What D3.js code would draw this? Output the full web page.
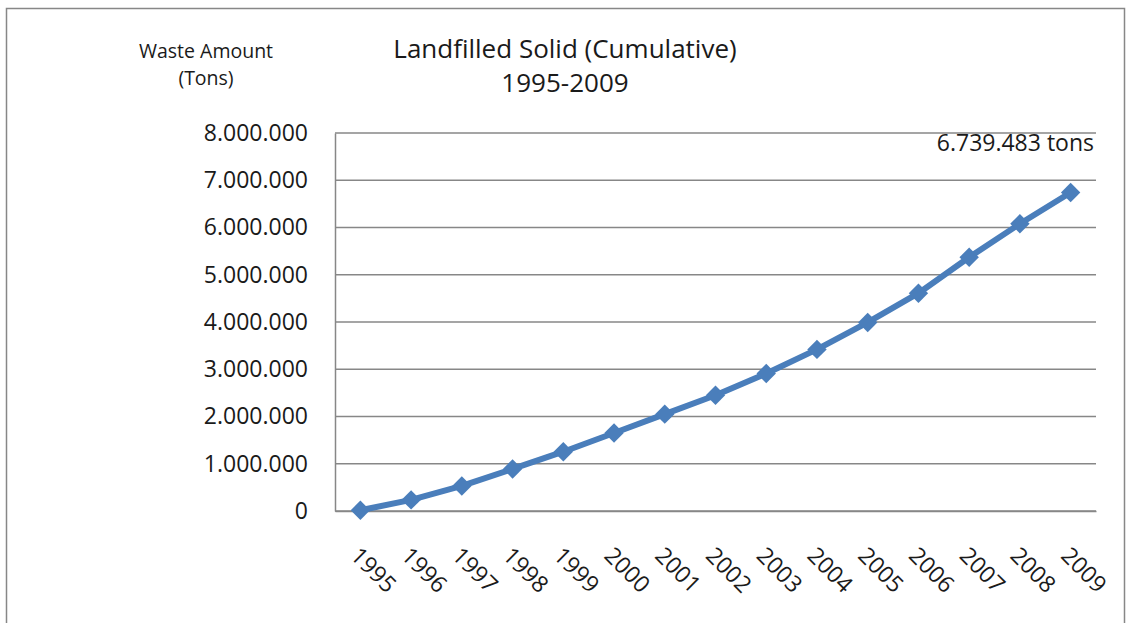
<!DOCTYPE html>
<html>
<head>
<meta charset="utf-8">
<script src="https://cdn.jsdelivr.net/npm/d3@7"></script>
<style>
  html, body { margin: 0; padding: 0; background: #fff; }
  svg { display: block; font-family: "Open Sans", sans-serif; }
</style>
</head>
<body>
<svg id="chart" width="1126" height="623"></svg>
<script>
// Cumulative landfilled solid waste by year (tons)
const years = ["1995","1996","1997","1998","1999","2000","2001","2002","2003","2004","2005","2006","2007","2008","2009"];
const cumulativeTons = [15000, 235000, 530000, 890000, 1255000, 1650000, 2050000, 2450000, 2910000, 3420000, 3990000, 4610000, 5370000, 6080000, 6739483];
const yTicks = [0, 1000000, 2000000, 3000000, 4000000, 5000000, 6000000, 7000000, 8000000];
const titleLines = ["Landfilled Solid (Cumulative)", "1995-2009"];
const yTitleLines = ["Waste Amount", "(Tons)"];
const lastLabel = "6.739.483 tons";

const svg = d3.select("#chart");
const plot = { left: 335, right: 1096, top: 133, bottom: 511 };
const gridColor = "#878787";
const lineColor = "#4a7ebb";

// Outer chart frame
svg.append("rect")
  .attr("x", 6.5).attr("y", 8.5)
  .attr("width", 1118).attr("height", 640)
  .attr("fill", "#fff").attr("stroke", gridColor).attr("stroke-width", 1.5);

const x = d3.scaleBand().domain(years).range([plot.left, plot.right]).padding(0);
const y = d3.scaleLinear().domain([0, 8000000]).range([plot.bottom, plot.top]);

// Dotted thousands separator, e.g. 8.000.000
const fmt = d => d3.format(",")(d).replace(/,/g, ".");

// Horizontal gridlines
svg.append("g")
  .selectAll("line")
  .data(yTicks)
  .join("line")
  .attr("x1", plot.left).attr("x2", plot.right)
  .attr("y1", d => y(d)).attr("y2", d => y(d))
  .attr("stroke", gridColor).attr("stroke-width", 1.5);

// Y axis
const yAxis = svg.append("g")
  .attr("transform", `translate(${plot.left},0)`)
  .call(d3.axisLeft(y).tickValues(yTicks).tickFormat(fmt).tickSize(0).tickPadding(27));
yAxis.select(".domain").attr("stroke", gridColor).attr("stroke-width", 1.5);
yAxis.selectAll("text")
  .attr("font-family", "Open Sans, sans-serif")
  .attr("font-size", 23).attr("fill", "#1a1a1a");

// X axis
const xAxis = svg.append("g")
  .attr("transform", `translate(0,${plot.bottom})`)
  .call(d3.axisBottom(x).tickSize(0).tickFormat(""));
xAxis.select(".domain").attr("stroke", gridColor).attr("stroke-width", 1.5);

// Rotated year labels
svg.append("g")
  .selectAll("text")
  .data(years)
  .join("text")
  .attr("transform", d => `translate(${x(d) + x.bandwidth() / 2 - 11},${plot.bottom + 46}) rotate(45)`)
  .attr("text-anchor", "start")
  .attr("font-size", 23)
  .attr("fill", "#1a1a1a")
  .text(d => d);

// Series line
const line = d3.line()
  .x((d, i) => x(years[i]) + x.bandwidth() / 2)
  .y(d => y(d));
svg.append("path")
  .datum(cumulativeTons)
  .attr("d", line)
  .attr("fill", "none")
  .attr("stroke", lineColor)
  .attr("stroke-width", 6)
  .attr("stroke-linejoin", "round");

// Diamond markers
const diamond = d3.symbol().type(d3.symbolDiamond2).size(240);
svg.append("g")
  .selectAll("path")
  .data(cumulativeTons)
  .join("path")
  .attr("d", diamond)
  .attr("transform", (d, i) => `translate(${x(years[i]) + x.bandwidth() / 2},${y(d)})`)
  .attr("fill", lineColor);

// Value label for the final year
svg.append("text")
  .attr("x", plot.right - 2)
  .attr("y", y(cumulativeTons[cumulativeTons.length - 1]) - 42)
  .attr("text-anchor", "end")
  .attr("font-size", 23)
  .attr("fill", "#1a1a1a")
  .text(lastLabel);

// Chart title
svg.append("g")
  .selectAll("text")
  .data(titleLines)
  .join("text")
  .attr("x", 565)
  .attr("y", (d, i) => 58 + i * 34)
  .attr("text-anchor", "middle")
  .attr("font-size", 26)
  .attr("fill", "#1a1a1a")
  .text(d => d);

// Y axis title
svg.append("g")
  .selectAll("text")
  .data(yTitleLines)
  .join("text")
  .attr("x", 206)
  .attr("y", (d, i) => 58 + i * 27)
  .attr("text-anchor", "middle")
  .attr("font-size", 19.5)
  .attr("fill", "#1a1a1a")
  .text(d => d);
</script>
</body>
</html>
